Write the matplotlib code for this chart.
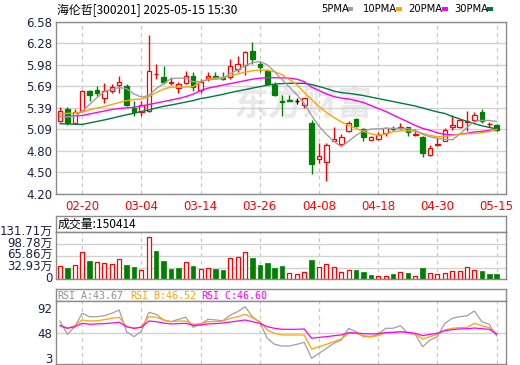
import matplotlib
matplotlib.use('Agg')
import matplotlib.pyplot as plt
from matplotlib.transforms import ScaledTranslation
from matplotlib.patches import Rectangle

# ---------------- data ----------------
dates = ['02-17', '02-18', '02-19', '02-20', '02-21', '02-24', '02-25', '02-26', '02-27', '02-28',
         '03-03', '03-04', '03-05', '03-06', '03-07', '03-10', '03-11', '03-12', '03-13', '03-14',
         '03-17', '03-18', '03-19', '03-20', '03-21', '03-24', '03-25', '03-26', '03-27', '03-28',
         '03-31', '04-01', '04-02', '04-03', '04-07', '04-08', '04-09', '04-10', '04-11', '04-14',
         '04-15', '04-16', '04-17', '04-18', '04-21', '04-22', '04-23', '04-24', '04-25', '04-28',
         '04-29', '04-30', '05-06', '05-07', '05-08', '05-09', '05-12', '05-13', '05-14', '05-15']
tick_dates = ['02-20', '03-04', '03-14', '03-26', '04-08', '04-18', '04-30', '05-15']

opens = [5.21, 5.37, 5.18, 5.34, 5.62, 5.63, 5.52, 5.62, 5.71, 5.69,
         5.39, 5.33, 5.34, 5.85, 5.82, 5.73, 5.66, 5.73, 5.83, 5.63,
         5.80, 5.83, 5.82, 5.82, 5.93, 5.98, 6.17, 5.99, 5.90, 5.70,
         5.49, 5.50, 5.49, 5.43, 5.18, 4.68, 4.64, 4.93, 4.89, 5.07,
         5.23, 5.09, 4.95, 4.96, 5.04, 5.11, 5.11, 5.12, 5.01, 4.99,
         4.74, 4.87, 4.93, 5.13, 5.13, 5.19, 5.22, 5.33, 5.16, 5.15]
highs = [5.40, 5.40, 5.37, 5.64, 5.64, 5.69, 5.73, 5.72, 5.83, 5.72,
         5.48, 5.48, 6.40, 5.99, 5.96, 5.81, 5.75, 5.90, 5.89, 5.79,
         5.89, 5.89, 5.89, 6.06, 6.11, 6.17, 6.30, 6.03, 5.93, 5.75,
         5.56, 5.56, 5.53, 5.53, 5.22, 4.90, 4.90, 5.13, 5.03, 5.21,
         5.25, 5.11, 5.00, 5.05, 5.13, 5.14, 5.18, 5.13, 5.09, 5.00,
         4.87, 4.97, 5.11, 5.29, 5.24, 5.34, 5.33, 5.37, 5.20, 5.17]
lows = [5.19, 5.15, 5.17, 5.33, 5.49, 5.55, 5.46, 5.59, 5.59, 5.42,
        5.27, 5.27, 5.33, 5.79, 5.72, 5.70, 5.59, 5.72, 5.62, 5.59,
        5.76, 5.79, 5.77, 5.79, 5.89, 5.84, 5.99, 5.89, 5.71, 5.55,
        5.28, 5.48, 5.44, 5.39, 4.47, 4.63, 4.38, 4.93, 4.88, 5.05,
        5.13, 4.93, 4.94, 4.94, 5.00, 5.07, 5.09, 5.00, 5.00, 4.71,
        4.72, 4.86, 4.93, 5.08, 5.11, 5.07, 5.19, 5.18, 5.13, 5.07]
closes = [5.35, 5.18, 5.33, 5.62, 5.56, 5.59, 5.62, 5.67, 5.74, 5.43,
          5.33, 5.43, 5.90, 5.86, 5.75, 5.74, 5.72, 5.83, 5.67, 5.74,
          5.83, 5.82, 5.79, 5.96, 6.00, 6.16, 6.06, 5.95, 5.72, 5.56,
          5.47, 5.48, 5.49, 5.52, 4.61, 4.72, 4.87, 4.96, 4.99, 5.18,
          5.14, 4.99, 4.98, 5.01, 5.11, 5.09, 5.13, 5.05, 5.03, 4.76,
          4.84, 4.89, 5.08, 5.15, 5.22, 5.21, 5.29, 5.21, 5.17, 5.08]

ma5 = [5.270, 5.263, 5.270, 5.345, 5.435, 5.531, 5.613, 5.647, 5.668, 5.654,
       5.579, 5.537, 5.558, 5.654, 5.723, 5.791, 5.798, 5.798, 5.750, 5.750,
       5.777, 5.784, 5.791, 5.860, 5.908, 5.970, 6.011, 6.029, 5.983, 5.887,
       5.777, 5.675, 5.572, 5.448, 5.284, 5.133, 5.023, 4.927, 4.852, 4.927,
       5.009, 5.071, 5.095, 5.100, 5.105, 5.105, 5.105, 5.100, 5.078, 5.023,
       4.989, 4.968, 4.955, 4.948, 5.023, 5.119, 5.201, 5.215, 5.215, 5.201]
ma10 = [5.311, 5.311, 5.318, 5.332, 5.360, 5.387, 5.407, 5.435, 5.462, 5.489,
        5.503, 5.510, 5.544, 5.599, 5.647, 5.675, 5.675, 5.675, 5.682, 5.750,
        5.784, 5.798, 5.809, 5.832, 5.856, 5.880, 5.901, 5.911, 5.908, 5.887,
        5.846, 5.777, 5.709, 5.599, 5.503, 5.407, 5.325, 5.256, 5.195, 5.146,
        5.105, 5.064, 5.030, 5.009, 5.030, 5.057, 5.071, 5.071, 5.064, 5.037,
        5.009, 4.989, 4.996, 5.009, 5.023, 5.030, 5.037, 5.044, 5.064, 5.092]
ma20 = [5.270, 5.270, 5.277, 5.284, 5.304, 5.325, 5.345, 5.366, 5.380, 5.389,
        5.397, 5.414, 5.435, 5.455, 5.476, 5.496, 5.517, 5.544, 5.578, 5.626,
        5.661, 5.681, 5.702, 5.723, 5.743, 5.764, 5.784, 5.798, 5.805, 5.805,
        5.802, 5.798, 5.784, 5.750, 5.675, 5.627, 5.581, 5.544, 5.524, 5.510,
        5.489, 5.462, 5.421, 5.380, 5.339, 5.290, 5.242, 5.195, 5.146, 5.105,
        5.078, 5.044, 5.023, 5.016, 5.023, 5.037, 5.057, 5.064, 5.078, 5.087]
ma30 = [5.170, 5.167, 5.163, 5.160, 5.181, 5.201, 5.222, 5.245, 5.270, 5.293,
        5.314, 5.339, 5.359, 5.387, 5.410, 5.428, 5.448, 5.469, 5.489, 5.517,
        5.533, 5.554, 5.574, 5.599, 5.620, 5.640, 5.661, 5.681, 5.702, 5.716,
        5.723, 5.727, 5.727, 5.727, 5.709, 5.684, 5.654, 5.620, 5.599, 5.590,
        5.574, 5.558, 5.537, 5.517, 5.496, 5.476, 5.455, 5.435, 5.414, 5.387,
        5.359, 5.332, 5.311, 5.270, 5.236, 5.201, 5.170, 5.142, 5.119, 5.098]

volume_wan = [37.3, 30.8, 40.1, 75.6, 51.3, 47.6, 44.8, 42.9, 56.0, 40.1,
              33.6, 25.2, 117.7, 79.3, 51.3, 28.9, 30.8, 49.3, 37.3, 28.9,
              30.8, 28.9, 26.1, 58.8, 63.3, 75.6, 58.8, 40.1, 46.6, 31.7,
              37.3, 16.8, 14.0, 19.6, 54.1, 33.6, 42.0, 33.6, 19.6, 25.2,
              26.1, 20.5, 11.2, 10.3, 10.3, 14.0, 19.6, 16.8, 10.3, 30.8,
              16.8, 14.0, 16.8, 22.4, 22.4, 33.6, 25.2, 22.4, 14.0, 15.04]
volume_up = [1, 0, 1, 1, 0, 1, 1, 1, 1, 0,
             0, 1, 1, 0, 0, 0, 0, 1, 0, 1,
             1, 0, 0, 1, 1, 1, 0, 0, 0, 0,
             0, 1, 1, 1, 0, 1, 1, 1, 1, 1,
             0, 0, 0, 1, 1, 0, 1, 0, 1, 0,
             1, 1, 1, 1, 1, 1, 1, 0, 0, 0]
volume_last = 150414

rsi_a = [69.1, 46.3, 59.3, 82.4, 76.5, 76.5, 78.3, 82.4, 88.0, 50.7,
         42.2, 52.0, 84.1, 80.6, 70.9, 68.0, 72.0, 75.5, 58.3, 63.5,
         72.1, 71.0, 69.6, 79.4, 85.1, 93.7, 76.5, 67.0, 39.4, 29.1,
         26.2, 26.2, 29.1, 32.5, 5.0, 13.6, 22.2, 30.8, 36.5, 56.6,
         50.7, 42.2, 42.2, 46.3, 56.6, 56.6, 61.1, 48.0, 46.3, 25.0,
         36.5, 42.2, 65.2, 73.8, 76.5, 78.2, 86.3, 68.0, 63.5, 43.67]
rsi_b = [62.3, 56.6, 61.1, 70.9, 69.1, 69.6, 71.4, 73.8, 75.5, 59.3,
         56.6, 59.3, 76.5, 75.5, 70.9, 68.0, 69.1, 69.1, 63.5, 64.6,
         68.0, 68.0, 69.1, 73.8, 76.5, 80.6, 74.8, 68.0, 53.7, 48.0,
         45.1, 45.1, 45.1, 45.1, 21.0, 25.0, 29.1, 33.6, 38.2, 48.0,
         48.0, 43.9, 42.2, 43.9, 49.1, 49.6, 50.7, 49.1, 46.3, 38.2,
         42.2, 46.3, 53.7, 56.6, 57.7, 58.3, 65.2, 61.1, 57.7, 46.52]
rsi_c = [61.1, 56.6, 59.3, 65.2, 63.5, 64.1, 64.6, 65.7, 66.9, 59.3,
         56.6, 58.3, 69.1, 68.0, 65.7, 64.1, 64.6, 65.2, 61.7, 62.3,
         64.1, 64.6, 65.7, 67.4, 69.1, 70.9, 68.0, 65.2, 59.3, 56.6,
         54.9, 54.9, 54.9, 55.5, 39.4, 41.1, 42.2, 43.9, 45.1, 49.1,
         48.6, 47.4, 46.9, 47.4, 49.1, 49.6, 50.7, 49.6, 48.0, 43.9,
         46.3, 48.0, 52.5, 54.3, 55.5, 55.9, 57.1, 55.9, 54.9, 46.60]

price_ticks = [4.20, 4.4975, 4.795, 5.0925, 5.39, 5.6875, 5.985, 6.2825, 6.58]
price_tick_labels = ['4.20', '4.50', '4.80', '5.09', '5.39', '5.69', '5.98', '6.28', '6.58']
vol_ticks = [0, 32.93, 65.86, 98.78, 131.71]
vol_tick_labels = ['0', '32.93万', '65.86万', '98.78万', '131.71万']
rsi_ticks = [3, 48, 92]
rsi_tick_labels = ['3', '48', '92']

title_text = '海伦哲[300201] 2025-05-15 15:30'
ma_names = ['5PMA', '10PMA', '20PMA', '30PMA']

# ---------------- style ----------------
RED = '#FF0000'
GREEN = '#008000'
C_MA5 = '#A0A0A0'
C_MA10 = '#FFA500'
C_MA20 = '#FF00FF'
C_MA30 = '#007A3D'
FRAME = '#8C8C8C'
GRID = '#D2D2D2'
LABEL = '#1E1E46'
CJK = ['Noto Sans CJK SC', 'DejaVu Sans']
NUM = ['DejaVu Sans', 'Noto Sans CJK SC']

W, H = 520, 365
fig = plt.figure(figsize=(W / 100, H / 100), dpi=100)
fig.patch.set_facecolor('white')


def box(x0, y0, x1, y1):
    return [x0 / W, 1 - y1 / H, (x1 - x0) / W, (y1 - y0) / H]


ax = fig.add_axes(box(56, 21.5, 505.5, 194))
axvt = fig.add_axes(box(56, 215.7, 505.5, 232.3))
axv = fig.add_axes(box(56, 232.3, 505.5, 279.3))
axrt = fig.add_axes(box(56, 289, 505.5, 301))
axr = fig.add_axes(box(56, 301, 505.5, 364))

n = len(dates)
xs = list(range(n))
xlim = (-0.54, n + 0.2)
tick_pos = [dates.index(d) for d in tick_dates]

for a in (ax, axvt, axv, axrt, axr):
    for s in a.spines.values():
        s.set_color(FRAME)
        s.set_linewidth(1.0)
    a.tick_params(length=0)
    a.set_xlim(*xlim)

for a in (axvt, axrt):
    a.set_xticks([])
    a.set_yticks([])

# ---------------- main candle panel ----------------
ax.set_ylim(price_ticks[0], price_ticks[-1])
ax.set_yticks(price_ticks)
ax.set_yticklabels(price_tick_labels, color=LABEL, fontsize=8.5, family=NUM)
ax.tick_params(axis='y', pad=2.5)
ax.set_xticks(tick_pos)
ax.set_xticklabels(tick_dates, color=RED, fontsize=8.5, family=NUM)
ax.tick_params(axis='x', pad=4)
ax.grid(axis='y', color=GRID, lw=1.0, ls='-')
ax.grid(axis='x', color='#C8C8C8', lw=0.9, ls=(0, (3, 3)))
ax.set_axisbelow(True)

ax.text(0.55, 0.52, '东方财富', transform=ax.transAxes, ha='center', va='center',
        fontsize=25, color='#E9E9E9', family=CJK, fontweight='bold', zorder=0.5)

body_w = 0.62
for i in xs:
    o, h, l, c = opens[i], highs[i], lows[i], closes[i]
    if c > o:
        col, face = RED, 'white'
    elif c < o:
        col, face = GREEN, GREEN
    else:
        col, face = 'black', 'black'
    ax.vlines(i, l, h, color=col, lw=1.0, zorder=2)
    ax.bar(i, abs(c - o), bottom=min(o, c), width=body_w, facecolor=face,
           edgecolor=col, linewidth=0.9, zorder=2.5)

ax.plot(xs, ma30, color=C_MA30, lw=1.0, zorder=3)
ax.plot(xs, ma20, color=C_MA20, lw=1.0, zorder=3)
ax.plot(xs, ma10, color=C_MA10, lw=1.0, zorder=3)
ax.plot(xs, ma5, color=C_MA5, lw=1.0, zorder=3)

# title
fig.text(57 / W, 1 - 10.5 / H, title_text, ha='left', va='center', fontsize=8.6,
         family=CJK, color='black')

# MA legend
leg_x = [321, 363, 408, 454]
leg_colors = [C_MA5, C_MA10, C_MA20, C_MA30]
leg_box_x = [347, 396, 442, 487]
for name, tx, bx, colr in zip(ma_names, leg_x, leg_box_x, leg_colors):
    fig.text(tx / W, 1 - 8.5 / H, name, ha='left', va='center', fontsize=7.2,
             family=['DejaVu Sans Condensed', 'DejaVu Sans'], color='black')
    fig.patches.append(Rectangle((bx / W, 1 - 10.5 / H), 6 / W, 4 / H,
                                 transform=fig.transFigure, facecolor=colr,
                                 edgecolor='none'))

# ---------------- volume panel ----------------
axvt.text(2 / 449.5, 0.5, '成交量:%d' % volume_last, transform=axvt.transAxes,
          ha='left', va='center', fontsize=8.6, family=CJK, color='black')

axv.set_ylim(vol_ticks[0], vol_ticks[-1])
axv.set_yticks(vol_ticks)
axv.set_yticklabels(vol_tick_labels, color=LABEL, fontsize=8.5, family=NUM)
axv.tick_params(axis='y', pad=2.5)
off = ScaledTranslation(0, 2.5 / 100, fig.dpi_scale_trans)
for lab in axv.get_yticklabels():
    lab.set_transform(lab.get_transform() + off)
axv.set_xticks(tick_pos)
axv.set_xticklabels([])
axv.grid(axis='y', color=GRID, lw=1.0, ls='-')
axv.grid(axis='x', color='#C8C8C8', lw=0.9, ls=(0, (3, 3)))
axv.set_axisbelow(True)
for i in xs:
    if volume_up[i]:
        axv.bar(i, volume_wan[i], width=0.56, facecolor='white', edgecolor=RED,
                linewidth=0.9, zorder=2)
    else:
        axv.bar(i, volume_wan[i], width=0.62, facecolor=GREEN, edgecolor=GREEN,
                linewidth=0.5, zorder=2)

# ---------------- RSI panel ----------------
rsi_title = [('RSI_A:%.2f' % rsi_a[-1], '#909090', 57),
             ('RSI_B:%.2f' % rsi_b[-1], '#FFA500', 130),
             ('RSI_C:%.2f' % rsi_c[-1], '#FF00FF', 201.5)]
for txt, colr, px in rsi_title:
    axrt.text((px - 56) / 449.5, 0.45, txt, transform=axrt.transAxes, ha='left',
              va='center', fontsize=7.2, family=['DejaVu Sans Mono'], color=colr)

axr.set_ylim(-4.7, 103.5)
axr.set_yticks(rsi_ticks)
axr.set_yticklabels(rsi_tick_labels, color=LABEL, fontsize=8.5, family=NUM)
axr.tick_params(axis='y', pad=2.5)
off_r = ScaledTranslation(0, 1.5 / 100, fig.dpi_scale_trans)
rlabs = axr.get_yticklabels()
rlabs[0].set_transform(rlabs[0].get_transform() + off_r)
axr.set_xticks(tick_pos)
axr.set_xticklabels([])
axr.grid(axis='x', color='#C8C8C8', lw=0.9, ls=(0, (3, 3)))
axr.axhline(rsi_ticks[1], color=GRID, lw=1.0, zorder=1)
axr.set_axisbelow(True)
axr.plot(xs, rsi_a, color='#A0A0A0', lw=0.9, zorder=3)
axr.plot(xs, rsi_b, color='#FFA500', lw=0.9, zorder=3)
axr.plot(xs, rsi_c, color='#FF00FF', lw=0.9, zorder=3)

fig.savefig('out.png', dpi=100, facecolor='white')
